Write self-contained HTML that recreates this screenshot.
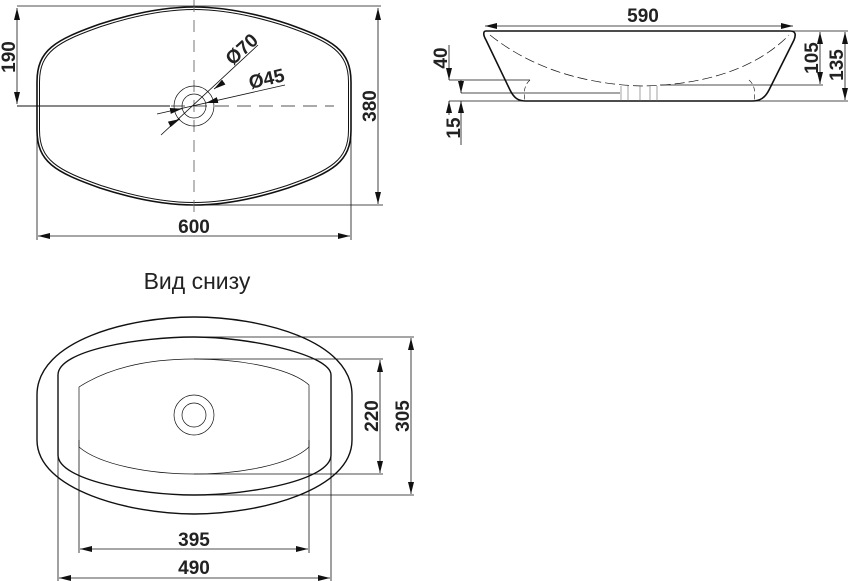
<!DOCTYPE html>
<html><head><meta charset="utf-8"><style>
html,body{margin:0;padding:0;background:#fff;width:848px;height:581px;overflow:hidden}
text{font-family:"Liberation Sans",sans-serif;fill:#222}
.b{font-weight:bold;font-size:19px}
</style></head><body>
<svg width="848" height="581" viewBox="0 0 848 581" xmlns="http://www.w3.org/2000/svg">
<defs>
<marker id="a" viewBox="0 0 12 6" refX="12" refY="3" markerWidth="12" markerHeight="6" orient="auto-start-reverse" markerUnits="userSpaceOnUse"><path d="M0,0 L12,3 L0,6Z" fill="#111"/></marker>
</defs>
<g fill="none" stroke="#111">
<!-- Top view -->
<path d="M37,82 C37,50 55,40 100,24 C140,11 170,7 194,7 C218,7 248,11 288,24 C333,40 351,50 351,82 L351,130 C351,162 333,172 288,188 C248,201 218,205 194,205 C170,205 140,201 100,188 C55,172 37,162 37,130 Z" stroke-width="1.6"/>
<path d="M39.5,82 C39.5,52 57,42 101,26.5 C141,13.5 170,9.5 194,9.5 C218,9.5 247,13.5 287,26.5 C331,42 348.5,52 348.5,82 L348.5,130 C348.5,160 331,170 287,185.5 C247,198.5 218,202.5 194,202.5 C170,202.5 141,198.5 101,185.5 C57,170 39.5,160 39.5,130 Z" stroke-width="1"/>
<line x1="194" y1="0" x2="194" y2="212" stroke="#777" stroke-dasharray="12,8" stroke-width="1"/>
<line x1="17" y1="106" x2="334" y2="106" stroke="#555" stroke-dasharray="14,8" stroke-width="1"/>
<line x1="17" y1="106" x2="170" y2="106" stroke="#111" stroke-width="1"/>
<circle cx="194" cy="106" r="20" stroke-width="0.7"/>
<circle cx="194" cy="106" r="12" stroke-width="0.7"/>
<line x1="161" y1="135" x2="258" y2="45" stroke-width="0.8"/>
<line x1="172" y1="123" x2="180" y2="119" stroke-width="0.8" marker-end="url(#a)"/>
<line x1="221" y1="84" x2="214" y2="89" stroke-width="0.8" marker-end="url(#a)"/>
<line x1="157" y1="114" x2="285" y2="85" stroke-width="0.8"/>
<line x1="170" y1="111" x2="182" y2="108.7" stroke-width="0.8" marker-end="url(#a)"/>
<line x1="218" y1="100" x2="206" y2="103" stroke-width="0.8" marker-end="url(#a)"/>
<line x1="17" y1="6" x2="381" y2="6" stroke-width="0.8"/>
<line x1="17" y1="8" x2="17" y2="104" stroke-width="0.8" marker-start="url(#a)" marker-end="url(#a)"/>
<line x1="194" y1="205" x2="383" y2="205" stroke-width="0.8"/>
<line x1="378" y1="8" x2="378" y2="204" stroke-width="0.8" marker-start="url(#a)" marker-end="url(#a)"/>
<line x1="37" y1="130" x2="37" y2="240" stroke-width="0.8"/>
<line x1="351" y1="130" x2="351" y2="240" stroke-width="0.8"/>
<line x1="38" y1="236" x2="350" y2="236" stroke-width="0.8" marker-start="url(#a)" marker-end="url(#a)"/>
<!-- Side view -->
<path d="M486,31 L790,31 C796,31 796,35 794,40 L769,90 C765,98 760,101 752,101 L526,101 C518,101 514,98 510,90 L486,40 C483,35 483,31 486,31 Z" stroke-width="1.6"/>
<path d="M490,35 C540,75 600,85 643,86 C690,85 750,75 789,35" stroke-width="0.7" stroke-dasharray="10,4"/>
<path d="M530,80 C523,86 524,95 525,101 M749,80 C756,86 755,95 754,101" stroke-width="0.6" stroke-dasharray="5,3"/>
<path d="M621,86 V101 M628,86 V101 M640,86 V101 M650,86 V101 M657,86 V101" stroke-width="0.6" stroke="#666"/>
<line x1="485" y1="26" x2="793" y2="26" stroke-width="0.8" marker-start="url(#a)" marker-end="url(#a)"/>
<line x1="449" y1="80" x2="530" y2="80" stroke-width="0.8"/>
<line x1="461" y1="93" x2="620" y2="93" stroke-width="0.8"/>
<line x1="449" y1="101" x2="526" y2="101" stroke-width="0.8"/>
<line x1="449" y1="45" x2="449" y2="80" stroke-width="0.8" marker-end="url(#a)"/>
<line x1="449" y1="115" x2="449" y2="101" stroke-width="0.8" marker-end="url(#a)"/>
<line x1="461" y1="80" x2="461" y2="93" stroke-width="0.8" marker-end="url(#a)"/>
<line x1="461" y1="145" x2="461" y2="101" stroke-width="0.8" marker-end="url(#a)"/>
<line x1="790" y1="31" x2="848" y2="31" stroke-width="0.8"/>
<line x1="660" y1="85" x2="823" y2="85" stroke-width="0.8"/>
<line x1="752" y1="101" x2="848" y2="101" stroke-width="0.8"/>
<line x1="820" y1="32" x2="820" y2="84" stroke-width="0.8" marker-start="url(#a)" marker-end="url(#a)"/>
<line x1="845" y1="32" x2="845" y2="100" stroke-width="0.8" marker-start="url(#a)" marker-end="url(#a)"/>
<!-- Bottom view -->
<path d="M37,395 C37,340 130,317 194,317 C260,317 352,340 352,395 L352,440 C352,490 260,514 194,514 C130,514 37,490 37,440Z" stroke-width="1.4"/>
<path d="M58,375 C58,350 140,337 194,337 C250,337 331,355 331,375 L331,455 C331,480 250,495 194,495 C140,495 58,480 58,455 Z" stroke-width="1.4"/>
<path d="M79,387 C110,367 150,359 194,359 C240,359 290,368 309,385 L309,447 C290,465 240,474 194,474 C150,474 100,465 79,447Z" stroke-width="0.7"/>
<circle cx="194" cy="415" r="20" stroke-width="0.7"/>
<circle cx="194" cy="415" r="12" stroke-width="0.7"/>
<line x1="194" y1="337" x2="414" y2="337" stroke-width="0.8"/>
<line x1="194" y1="495" x2="414" y2="495" stroke-width="0.8"/>
<line x1="194" y1="359" x2="383" y2="359" stroke-width="0.8"/>
<line x1="194" y1="474" x2="383" y2="474" stroke-width="0.8"/>
<line x1="411" y1="338" x2="411" y2="494" stroke-width="0.8" marker-start="url(#a)" marker-end="url(#a)"/>
<line x1="380" y1="360" x2="380" y2="473" stroke-width="0.8" marker-start="url(#a)" marker-end="url(#a)"/>
<line x1="79" y1="440" x2="79" y2="553" stroke-width="0.8"/>
<line x1="309" y1="440" x2="309" y2="553" stroke-width="0.8"/>
<line x1="58" y1="455" x2="58" y2="581" stroke-width="0.8"/>
<line x1="331" y1="455" x2="331" y2="581" stroke-width="0.8"/>
<line x1="80" y1="549" x2="308" y2="549" stroke-width="0.8" marker-start="url(#a)" marker-end="url(#a)"/>
<line x1="59" y1="578" x2="330" y2="578" stroke-width="0.8" marker-start="url(#a)" marker-end="url(#a)"/>
</g>
<text class="b" x="194" y="233" text-anchor="middle">600</text>
<text class="b" transform="translate(15,57) rotate(-90)" text-anchor="middle">190</text>
<text class="b" transform="translate(376,106) rotate(-90)" text-anchor="middle">380</text>
<text class="b" transform="translate(246,54) rotate(-42)" text-anchor="middle">Ø70</text>
<text class="b" transform="translate(268,85) rotate(-13)" text-anchor="middle">Ø45</text>
<text class="b" x="643" y="22" text-anchor="middle">590</text>
<text class="b" transform="translate(447,58) rotate(-90)" text-anchor="middle">40</text>
<text class="b" transform="translate(460,128) rotate(-90)" text-anchor="middle">15</text>
<text class="b" transform="translate(818,58) rotate(-90)" text-anchor="middle">105</text>
<text class="b" transform="translate(843,65) rotate(-90)" text-anchor="middle">135</text>
<text x="197" y="289" text-anchor="middle" font-size="23">Вид снизу</text>
<text class="b" transform="translate(378,416) rotate(-90)" text-anchor="middle">220</text>
<text class="b" transform="translate(409,416) rotate(-90)" text-anchor="middle">305</text>
<text class="b" x="194" y="546" text-anchor="middle">395</text>
<text class="b" x="194" y="574" text-anchor="middle">490</text>
</svg>
</body></html>
